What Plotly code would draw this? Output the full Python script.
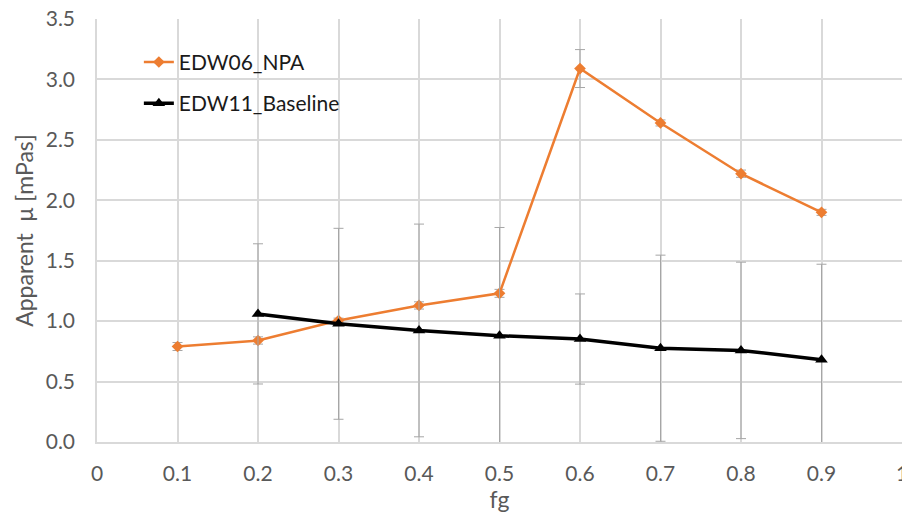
import plotly.graph_objects as go

fg = [0.1, 0.2, 0.3, 0.4, 0.5, 0.6, 0.7, 0.8, 0.9]
npa_mu = [0.79, 0.84, 1.005, 1.13, 1.23, 3.09, 2.64, 2.22, 1.90]
npa_err = [0.033, 0.03, 0.02, 0.03, 0.033, 0.157, 0.025, 0.03, 0.025]

fg_base = [0.2, 0.3, 0.4, 0.5, 0.6, 0.7, 0.8, 0.9]
base_mu = [1.06, 0.978, 0.923, 0.879, 0.852, 0.776, 0.758, 0.681]
base_err = [0.58, 0.79, 0.88, 0.896, 0.373, 0.77, 0.73, 0.79]

x_ticks = [0, 0.1, 0.2, 0.3, 0.4, 0.5, 0.6, 0.7, 0.8, 0.9, 1]
x_labels = ["0", "0.1", "0.2", "0.3", "0.4", "0.5", "0.6", "0.7", "0.8", "0.9", "1"]
y_ticks = [0, 0.5, 1.0, 1.5, 2.0, 2.5, 3.0, 3.5]

FONT = "Lato, 'Open Sans', sans-serif"
GREY_TXT = "#595959"
GRID = "#d9d9d9"

fig = go.Figure()
fig.add_trace(go.Scatter(
    x=fg, y=npa_mu, name="EDW06_NPA", mode="lines+markers",
    legendgroup="a",
    line=dict(color="#ED7D31", width=2.5),
    marker=dict(symbol="diamond", size=9, color="#ED7D31"),
    error_y=dict(type="data", array=npa_err, color="#a6a6a6", thickness=1, width=5),
))
fig.add_trace(go.Scatter(
    x=fg_base, y=base_mu, name="EDW11_Baseline", mode="lines+markers",
    legendgroup="b",
    line=dict(color="#000000", width=3.5),
    marker=dict(symbol="triangle-up", size=11, color="#000000"),
    error_y=dict(type="data", array=base_err, color="#a6a6a6", thickness=1, width=5),
))

fig.update_layout(
    width=902, height=514,
    margin=dict(l=97, r=0, t=19, b=72, autoexpand=False),
    plot_bgcolor="white", paper_bgcolor="white",
    font=dict(family=FONT, size=21, color=GREY_TXT),
    showlegend=True,
    legend=dict(
        x=0.052, y=0.946, xanchor="left", yanchor="top",
        bgcolor="rgba(0,0,0,0)",
        font=dict(family=FONT, size=21, color="#1a1a1a"),
        traceorder="grouped", tracegroupgap=11,
    ),
    xaxis=dict(
        range=[0, 1], tickvals=x_ticks, ticktext=x_labels,
        showgrid=True, gridcolor=GRID, gridwidth=1.5,
        showline=True, linecolor=GRID, linewidth=1.5,
        zeroline=False, ticks="", ticklabelstandoff=12,
        ticklabeloverflow="allow", automargin=False,
        title=dict(text="fg", font=dict(family=FONT, size=23, color=GREY_TXT), standoff=2),
    ),
    yaxis=dict(
        range=[0, 3.5], tickvals=y_ticks, tickformat=".1f",
        showgrid=True, gridcolor=GRID, gridwidth=1.5,
        showline=True, linecolor=GRID, linewidth=1.5,
        zeroline=False, ticks="", ticklabelstandoff=16, automargin=False,
        title=dict(text="Apparent  μ [mPas]", font=dict(family=FONT, size=23, color=GREY_TXT), standoff=6),
    ),
)

fig.write_html("out.html")
